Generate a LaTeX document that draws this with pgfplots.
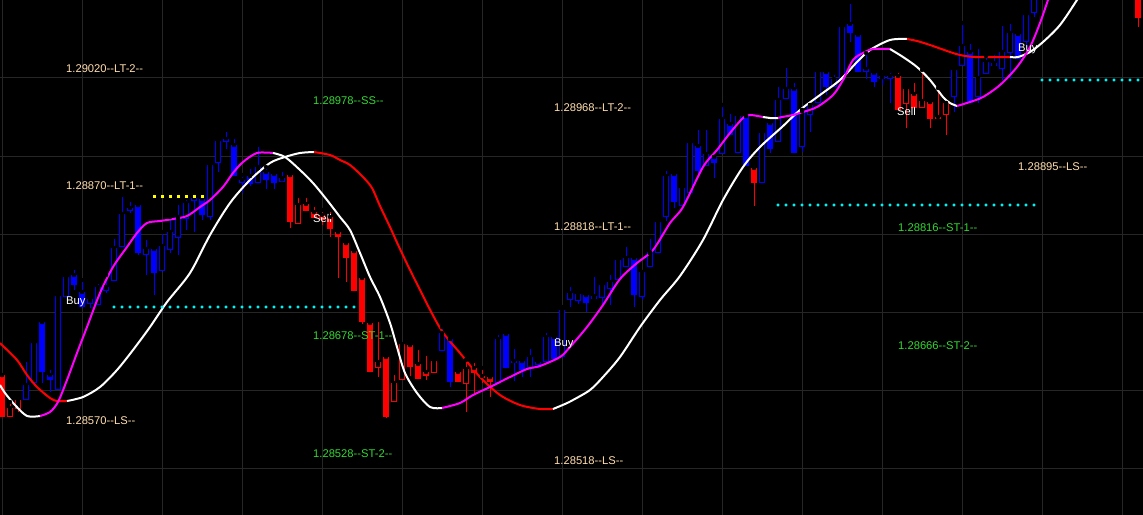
\documentclass[border=0pt]{standalone}
\usepackage{pgfplots}
\pgfplotsset{compat=1.18}
\usepackage{pgfplotstable}
\usepackage{fontspec}
\setmainfont{Liberation Sans}
\newfontfamily\lblfont{Liberation Sans}[Ligatures=TeXOff]
\newcommand{\lbl}{\lblfont\fontsize{11.2bp}{13bp}\selectfont}
\definecolor{cblue}{RGB}{0,0,255}
\definecolor{cred}{RGB}{255,0,0}
\definecolor{cmag}{RGB}{255,0,255}
\definecolor{ccyan}{RGB}{0,255,255}
\definecolor{cyel}{RGB}{255,255,0}
\definecolor{gridc}{RGB}{38,38,38}
\definecolor{peach}{RGB}{255,222,173}
\definecolor{lgreen}{RGB}{50,215,50}

\pgfplotstableread{
x bt bb wt wb
42 322 372 322 383
50 375 380 368 392
74 275 285 268 290
82 292 307 280 307
130 208 211 200 213
138 205 253 205 255
154 249 273 247 295
194 198 201 195 232
202 199 215 195 220
226 139 142 130 149
234 145 176 137 176
242 180 183 175 193
250 176 184 167 186
266 172 180 167 189
274 174 183 171 189
450 339 382 339 387
506 334 368 333 368
514 361 363 347 381
522 361 370 361 377
538 362 365 360 368
554 337 359 337 359
586 295 303 295 312
634 258 295 258 307
674 174 202 174 208
698 146 171 128 174
714 157 163 157 178
730 124 135 112 135
746 116 166 116 166
770 123 149 123 153
794 89 153 81 153
826 72 87 72 95
850 24 33 2 42
858 35 72 33 72
866 69 72 53 79
874 73 82 69 87
890 76 79 71 103
970 52 103 42 103
1018 34 59 34 59
}\bluefilled

\pgfplotstableread{
x bt bb wt wb
26 385 400 360 400
34 343 383 343 385
58 296 390 296 390
66 277 297 277 297
90 299 304 296 308
98 287 305 282 305
106 287 291 275 293
114 248 281 237 281
122 214 247 195 247
146 249 255 238 275
162 246 271 232 271
170 232 250 217 253
178 217 238 203 255
186 203 219 198 230
210 165 217 165 220
218 141 163 141 172
258 167 183 145 183
282 178 182 170 182
442 333 351 327 351
498 339 383 333 383
530 357 368 347 377
546 337 362 331 362
562 310 357 307 357
570 293 300 285 307
578 294 301 290 304
594 296 299 275 299
602 285 298 285 304
610 282 289 273 305
618 260 280 257 280
626 258 267 245 267
642 272 297 272 300
650 252 267 237 267
658 222 253 222 253
666 176 217 169 221
682 188 206 188 206
690 143 193 143 193
706 154 166 128 166
722 119 154 105 154
738 116 153 112 153
762 133 183 133 183
778 100 142 85 142
786 89 99 66 99
802 110 147 110 152
810 105 115 105 132
818 72 103 72 103
834 79 87 73 87
842 27 80 27 80
882 76 79 72 85
954 70 97 70 112
962 46 66 23 66
978 78 97 47 103
986 62 74 56 74
994 63 66 53 66
1002 52 69 24 80
1010 33 53 22 79
1026 15 42 15 48
1034 -5 13 -5 17
}\bluehollow

\pgfplotstableread{
x bt bb wt wb
2 375 417 375 417
290 175 222 175 228
306 204 211 196 211
314 212 218 205 218
322 215 220 210 225
330 217 229 210 237
338 232 237 232 278
346 243 258 243 282
354 251 291 251 291
362 278 322 276 324
370 323 372 320 372
386 357 417 355 418
410 345 367 345 376
418 364 379 348 379
426 372 376 354 380
458 372 382 368 382
474 368 373 361 395
482 376 378 368 383
490 377 382 377 397
754 168 183 164 206
898 76 110 71 110
914 94 108 81 108
930 102 119 102 128
938 117 119 88 119
1138 -5 18 -5 27
}\redfilled

\pgfplotstableread{
x bt bb wt wb
10 408 417 402 417
18 400 409 396 412
298 205 224 196 224
378 362 368 320 377
394 383 402 373 402
402 344 380 344 380
434 361 373 361 373
466 369 384 360 412
906 89 104 89 128
922 101 108 70 108
946 103 115 103 135
}\redhollow

\pgfplotsset{
  wick/.style={forget plot, only marks, mark=none,
    error bars/.cd, y dir=plus, y explicit, error mark=none,
    error bar style={draw=#1, line width=1bp, solid}},
  body/.style={forget plot, only marks, mark=none,
    error bars/.cd, y dir=plus, y explicit, error mark=none,
    error bar style={draw=#1, line width=6bp, solid}},
  hole/.style={forget plot, only marks, mark=none,
    error bars/.cd, y dir=plus, y explicit, error mark=none,
    error bar style={draw=black, line width=3.6bp, solid}},
}

\begin{document}
\begin{tikzpicture}
\useasboundingbox (0,0) rectangle (1143bp,515bp);
\begin{axis}[
  at={(0,0)}, anchor=south west,
  scale only axis, width=1143bp, height=515bp,
  xmin=0, xmax=1143, ymin=0, ymax=515, y dir=reverse,
  axis background/.style={fill=black},
  axis line style={draw=none},
  xtick={2,82,...,1122}, ytick={78,156,...,468},
  xticklabels={}, yticklabels={}, major tick length=0pt,
  grid=major, major grid style={draw=gridc, line width=1bp},
  clip=true,
]
% candles
\addplot[wick=cblue] table[x=x, y=wt, y error expr=\thisrow{wb}-\thisrow{wt}] {\bluefilled};
\addplot[body=cblue] table[x=x, y=bt, y error expr=\thisrow{bb}-\thisrow{bt}] {\bluefilled};
\addplot[wick=cblue] table[x=x, y=wt, y error expr=\thisrow{wb}-\thisrow{wt}] {\bluehollow};
\addplot[body=cblue] table[x=x, y=bt, y error expr=\thisrow{bb}-\thisrow{bt}] {\bluehollow};
\addplot[hole] table[x=x, y expr=\thisrow{bt}+1.2, y error expr=\thisrow{bb}-\thisrow{bt}-2.4] {\bluehollow};
\addplot[wick=cred] table[x=x, y=wt, y error expr=\thisrow{wb}-\thisrow{wt}] {\redfilled};
\addplot[body=cred] table[x=x, y=bt, y error expr=\thisrow{bb}-\thisrow{bt}] {\redfilled};
\addplot[wick=cred] table[x=x, y=wt, y error expr=\thisrow{wb}-\thisrow{wt}] {\redhollow};
\addplot[body=cred] table[x=x, y=bt, y error expr=\thisrow{bb}-\thisrow{bt}] {\redhollow};
\addplot[hole] table[x=x, y expr=\thisrow{bt}+1.2, y error expr=\thisrow{bb}-\thisrow{bt}-2.4] {\redhollow};

% slow line
\addplot[cred, line width=2bp, smooth] coordinates {(0,343) (2,345) (17,360) (27,375) (37,387) (50,398) (57,401) (67,401)};
\addplot[white, line width=2bp, smooth] coordinates {(67,401) (83,397) (100,387) (117,370) (133,350) (150,327) (167,302) (190,273) (210,235) (230,203) (250,180) (270,163) (285,157) (300,153) (314,152)};
\addplot[cred, line width=2bp, smooth] coordinates {(314,152) (330,155) (340,160) (350,165) (363,177) (372,188) (380,206) (390,227) (400,249) (415,280) (440,328) (460,353) (480,377) (500,395) (520,405) (540,409) (553,409)};
\addplot[white, line width=2bp, smooth] coordinates {(553,409) (565,404) (573,400) (590,390) (603,377) (620,357) (640,327) (660,300) (680,276) (703,240) (723,200) (743,167) (760,147) (782,127) (800,110) (820,95) (840,80) (857,62) (870,50) (890,40) (907,39)};
\addplot[cred, line width=2bp, smooth] coordinates {(907,39) (917,41) (930,45) (950,52) (960,55) (975,57) (1010,57)};
\addplot[white, line width=2bp, smooth] coordinates {(1010,57) (1018,57) (1030,52) (1043,42) (1060,25) (1077,0) (1090,-20)};

% fast line
\addplot[white, line width=2bp, smooth] coordinates {(0,385) (5,393) (15,405) (27,416) (40,416)};
\addplot[cmag, line width=2bp, smooth] coordinates {(40,416) (50,412) (58,402) (67,380) (77,353) (87,327) (100,293) (113,267) (127,247) (137,233) (147,223) (160,221) (173,219) (187,216) (200,207) (210,200) (223,187) (233,173) (243,162) (257,153) (273,153)};
\addplot[white, line width=2bp, smooth] coordinates {(273,153) (285,157) (300,170) (313,183) (327,200) (340,217) (350,230) (360,253) (370,277) (380,297) (390,323) (397,347) (405,373) (417,393) (430,407) (442,408)};
\addplot[cmag, line width=2bp, smooth] coordinates {(442,408) (460,403) (473,395) (490,387) (510,377) (527,369) (540,366) (560,357) (570,347) (587,327) (603,305) (620,279) (637,263) (653,250) (670,223) (683,207) (703,167) (717,150) (730,133) (743,118) (750,115) (763,117)};
\addplot[white, line width=2bp] coordinates {(763,117) (770,118) (778,118)};
\addplot[cmag, line width=2bp, smooth] coordinates {(778,118) (782,117) (793,115) (803,112) (817,107) (833,95) (843,80) (853,60) (863,53) (873,49) (890,49)};
\addplot[white, line width=2bp, smooth] coordinates {(890,49) (903,57) (917,67) (930,80) (943,97) (950,103) (957,106)};
\addplot[cmag, line width=2bp, smooth] coordinates {(957,106) (970,102) (983,97) (1000,85) (1017,67) (1030,47) (1040,23) (1048,0) (1055,-20)};

% dotted levels
\addplot[only marks, mark=*, mark size=1.4bp, ccyan] table[x=x, y=y] {
x y
114 307
122 307
130 307
138 307
146 307
154 307
162 307
170 307
178 307
186 307
194 307
202 307
210 307
218 307
226 307
234 307
242 307
250 307
258 307
266 307
274 307
282 307
290 307
298 307
306 307
314 307
322 307
330 307
338 307
346 307
354 307
};
\addplot[only marks, mark=*, mark size=1.4bp, ccyan] table[x=x, y=y] {
x y
778 205
786 205
794 205
802 205
810 205
818 205
826 205
834 205
842 205
850 205
858 205
866 205
874 205
882 205
890 205
898 205
906 205
914 205
922 205
930 205
938 205
946 205
954 205
962 205
970 205
978 205
986 205
994 205
1002 205
1010 205
1018 205
1026 205
1034 205
};
\addplot[only marks, mark=*, mark size=1.4bp, ccyan] table[x=x, y=y] {
x y
1042 80
1050 80
1058 80
1066 80
1074 80
1082 80
1090 80
1098 80
1106 80
1114 80
1122 80
1130 80
1138 80
};
\addplot[only marks, mark=square*, mark size=1.3bp, cyel] table[x=x, y=y] {
x y
154 196
162 196
170 196
178 196
186 196
194 196
202 196
};

% labels
\begin{scope}[every node/.style={anchor=west, inner sep=0pt, font=\lbl}]
\node[text=peach] at (axis cs:66,69) {1.29020--LT-2--};
\node[text=lgreen] at (axis cs:313,101) {1.28978--SS--};
\node[text=peach] at (axis cs:554,108) {1.28968--LT-2--};
\node[text=peach] at (axis cs:66,186) {1.28870--LT-1--};
\node[text=peach] at (axis cs:554,227) {1.28818--LT-1--};
\node[text=peach] at (axis cs:1018,167) {1.28895--LS--};
\node[text=lgreen] at (axis cs:898,228) {1.28816--ST-1--};
\node[text=lgreen] at (axis cs:313,336) {1.28678--ST-1--};
\node[text=lgreen] at (axis cs:898,346) {1.28666--ST-2--};
\node[text=peach] at (axis cs:66,421) {1.28570--LS--};
\node[text=lgreen] at (axis cs:313,454) {1.28528--ST-2--};
\node[text=peach] at (axis cs:554,461) {1.28518--LS--};
\node[text=white] at (axis cs:66,302) {Buy};
\node[text=white] at (axis cs:313,218) {Sell};
\node[text=white] at (axis cs:554,344) {Buy};
\node[text=white] at (axis cs:897,111) {Sell};
\node[text=white] at (axis cs:1018,49) {Buy};
\end{scope}
\end{axis}
\end{tikzpicture}
\end{document}
